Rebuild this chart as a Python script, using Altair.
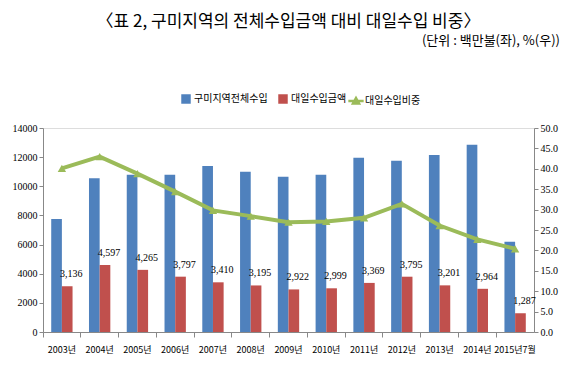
import altair as alt
import pandas as pd

years = ["2003년", "2004년", "2005년", "2006년", "2007년", "2008년", "2009년",
         "2010년", "2011년", "2012년", "2013년", "2014년", "2015년7월"]
total_imports = [7750, 10550, 10800, 10800, 11400, 11000, 10650,
                 10800, 11950, 11750, 12150, 12850, 6200]
japan_imports = [3136, 4597, 4265, 3797, 3410, 3195, 2922,
                 2999, 3369, 3795, 3201, 2964, 1287]
japan_share = [40.1, 43.0, 38.8, 34.4, 29.8, 28.4, 26.9,
               27.1, 28.0, 31.4, 26.1, 22.7, 20.4]
left_ticks = [0, 2000, 4000, 6000, 8000, 10000, 12000, 14000]
right_ticks = [0, 5, 10, 15, 20, 25, 30, 35, 40, 45, 50]

S_TOTAL = "구미지역전체수입"
S_JAPAN = "대일수입금액"
S_SHARE = "대일수입비중"

title_text = "〈표 2, 구미지역의 전체수입금액 대비 대일수입 비중〉"
unit_text = "(단위 : 백만불(좌), %(우))"

bars_df = pd.DataFrame({
    "year": years * 2,
    "series": [S_TOTAL] * len(years) + [S_JAPAN] * len(years),
    "value": total_imports + japan_imports,
})
labels_df = pd.DataFrame({"year": years, "series": [S_JAPAN] * len(years), "value": japan_imports})
share_df = pd.DataFrame({"year": years, "name": [S_SHARE] * len(years), "share": japan_share})
unit_df = pd.DataFrame({"t": [unit_text]})

BLUE, RED, GREEN = "#4F81BD", "#C0504D", "#9BBB59"
KFONT = "Noto Sans CJK KR"
NFONT = "Liberation Sans Narrow"

x_axis = alt.Axis(bandPosition=0, labelAngle=0, labelFont=KFONT, labelFontSize=9,
                  labelPadding=8, tickSize=5, labelOverlap=False,
                  domainColor="#888888", tickColor="#888888", labelColor="#000000")
x_scale = alt.Scale(paddingInner=0, paddingOuter=0)

def xenc():
    return alt.X("year:N", sort=years, title=None, scale=x_scale, axis=x_axis)

yl_axis = alt.Axis(values=left_ticks, format="d", grid=False, tickCount=8,
                   tickSize=4, labelFont=NFONT, labelFontSize=10, labelPadding=2,
                   labelOverlap=False,
                   domainColor="#888888", tickColor="#888888", labelColor="#000000")
yl_scale = alt.Scale(domain=[0, 14000], nice=False)

yr_axis = alt.Axis(orient="right", values=right_ticks, format=".1f", tickCount=11,
                   grid=False, tickSize=4, labelFont=NFONT, labelFontSize=10,
                   labelPadding=2, labelOverlap=False,
                   domainColor="#888888", tickColor="#888888", labelColor="#000000")
yr_scale = alt.Scale(domain=[0, 50], nice=False)

xoff_scale = alt.Scale(paddingInner=0, paddingOuter=0.77)

bars = alt.Chart(bars_df).mark_bar().encode(
    x=xenc(),
    xOffset=alt.XOffset("series:N", sort=[S_TOTAL, S_JAPAN], scale=xoff_scale),
    y=alt.Y("value:Q", title=None, scale=yl_scale, axis=yl_axis),
    color=alt.Color("series:N", sort=[S_TOTAL, S_JAPAN],
                    scale=alt.Scale(domain=[S_TOTAL, S_JAPAN], range=[BLUE, RED]),
                    legend=alt.Legend(title=None, orient="none", legendX=138, legendY=-34,
                                      direction="horizontal", symbolType="square",
                                      symbolSize=90, labelFont=KFONT, labelFontSize=10,
                                      symbolStrokeWidth=0, columnPadding=10, labelOffset=3)),
)

labels = alt.Chart(labels_df).mark_text(
    baseline="bottom", dy=-7, dx=4, font=NFONT, fontSize=10, color="#000000"
).encode(
    x=xenc(),
    xOffset=alt.XOffset("series:N", sort=[S_TOTAL, S_JAPAN], scale=xoff_scale),
    y=alt.Y("value:Q", title=None, scale=yl_scale, axis=yl_axis),
    text=alt.Text("value:Q", format=","),
)

left = alt.layer(bars, labels)

line = alt.Chart(share_df).mark_line(strokeWidth=4).encode(
    x=xenc(),
    y=alt.Y("share:Q", title=None, scale=yr_scale, axis=yr_axis),
    stroke=alt.Stroke("name:N", scale=alt.Scale(domain=[S_SHARE], range=[GREEN]),
                      legend=alt.Legend(title=None, orient="none", legendX=306, legendY=-34,
                                        symbolType="M-1.4,0L1.4,0M0,-0.55L0.55,0.45L-0.55,0.45Z",
                                        symbolSize=120, symbolStrokeWidth=2.5,
                                        symbolFillColor=GREEN, labelFont=KFONT,
                                        labelFontSize=10, labelOffset=2)),
)

points = alt.Chart(share_df).mark_point(
    shape="triangle-up", filled=True, size=70, color=GREEN, opacity=1
).encode(
    x=xenc(),
    y=alt.Y("share:Q", title=None, scale=yr_scale, axis=yr_axis),
)

unit = alt.Chart(unit_df).mark_text(
    align="right", baseline="middle", font=KFONT, fontSize=13, color="#000000"
).encode(text="t:N", x=alt.value(517), y=alt.value(-87))

right = alt.layer(line, points, unit)

chart = alt.layer(left, right).resolve_scale(
    y="independent", color="independent", stroke="independent"
).properties(
    width=491, height=204,
    autosize=alt.AutoSizeParams(type="none"),
    padding={"left": 35, "top": 120, "right": 30, "bottom": 30},
    title=alt.TitleParams(title_text, anchor="middle", font=KFONT, fontSize=17,
                          fontWeight="normal", color="#000000", offset=0, dy=-4),
).configure_view(stroke=None).configure(background="white")

chart.save("out.html", embed_options={"renderer": "svg", "actions": False})
